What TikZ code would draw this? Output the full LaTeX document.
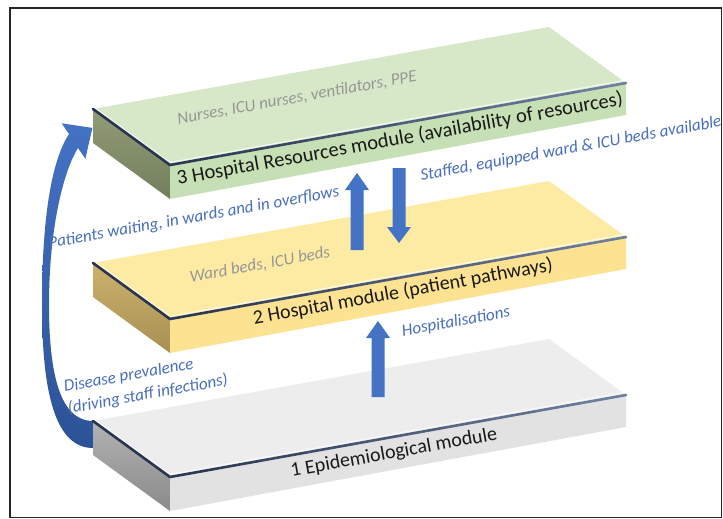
\documentclass[tikz,border=0pt]{standalone}
\usepackage{fontspec}
\setmainfont{Carlito}
\usetikzlibrary{calc}
\definecolor{arrowblue}{RGB}{68,114,196}
\definecolor{arrowdark}{RGB}{44,82,150}
\definecolor{labelblue}{RGB}{72,110,190}
\definecolor{greytext}{RGB}{150,150,150}
\definecolor{edgeA}{RGB}{40,52,80}
\definecolor{edgeB}{RGB}{112,130,162}
\definecolor{gTop}{RGB}{214,232,200}
\definecolor{gFront}{RGB}{199,223,180}
\definecolor{gLeftA}{RGB}{146,156,118}
\definecolor{gLeftB}{RGB}{114,126,92}
\definecolor{yTop}{RGB}{254,235,163}
\definecolor{yFront}{RGB}{252,226,145}
\definecolor{yLeftA}{RGB}{204,178,108}
\definecolor{yLeftB}{RGB}{168,143,84}
\definecolor{wTop}{RGB}{237,237,237}
\definecolor{wFront}{RGB}{226,226,226}
\definecolor{wLeftA}{RGB}{178,178,178}
\definecolor{wLeftB}{RGB}{138,138,138}
\newcommand\drawslab[5]{%
  \begin{scope}[shift={(0,#1)}]
    \fill[#2] (93,0) -- (549,-82) -- (626,-26) -- (170,56) -- cycle;
    \shade[top color=#4, bottom color=#5] (93,0) -- (170,56) -- (170,90) -- (93,34) -- cycle;
    \fill[#3] (170,56) -- (626,-26) -- (626,6) -- (170,90) -- cycle;
    \draw[white, line width=1.2, opacity=.7] (93,-2.5) -- (170,53.5) -- (624,-28.5);
    \draw[edgeA, line width=2.6, line cap=round, line join=round] (93,0) -- (170,56);
    \foreach \i in {0,...,9}{%
      \pgfmathtruncatemacro\p{\i*10+5}%
      \draw[edgeB!\p!edgeA, line width=2.6, line cap=round]
        ($(170,56)!\i/10!(626,-26)$) -- ($(170,56)!\i/10+0.1!(626,-26)$);}
  \end{scope}}
\tikzset{
  blockarrow/.style={fill=arrowblue, draw=none},
  title/.style={font=\fontsize{20}{23}\selectfont, text=black!90, rotate=10.2, inner sep=0},
  facelabel/.style={font=\itshape\fontsize{17}{20}\selectfont, text=greytext, rotate=10.2, inner sep=0},
  flowlabel/.style={font=\itshape\fontsize{17}{22}\selectfont, text=labelblue, rotate=10.2, inner sep=0},
}
\begin{document}
\begin{tikzpicture}[x=1pt,y=-1pt]
\useasboundingbox (0,0) rectangle (723,519);
\fill[white] (0,0) rectangle (723,519);
\draw[black!85, line width=1.2] (10,8) rectangle (721.5,517.5);

% curved arrow (disease prevalence)
\shade[top color=arrowblue, bottom color=arrowdark]
  (100,448) -- (93,448) .. controls (56,448) and (42,395) .. (42,305)
  .. controls (42,215) and (52,160) .. (69,134)
  -- (61.6,123.3) -- (92.4,127.9) -- (85.4,158.7) -- (78,148)
  .. controls (63,172) and (49,230) .. (49,305)
  .. controls (49,390) and (66,421) .. (93,421) -- (100,421) -- cycle;

% slabs
\drawslab{421}{wTop}{wFront}{wLeftA}{wLeftB}
\drawslab{263}{yTop}{yFront}{yLeftA}{yLeftB}
\drawslab{109}{gTop}{gFront}{gLeftA}{gLeftB}

% straight block arrows
\fill[blockarrow] (350.5,250) -- (350.5,190) -- (345,190) -- (357,173) -- (369,190) -- (363.5,190) -- (363.5,250) -- cycle;
\fill[blockarrow] (392.5,168) -- (392.5,227) -- (387,227) -- (399,243) -- (411,227) -- (405.5,227) -- (405.5,168) -- cycle;
\fill[blockarrow] (371.5,397) -- (371.5,338) -- (366,338) -- (378,321) -- (390,338) -- (384.5,338) -- (384.5,397) -- cycle;

% texts
\node[title, font=\fontsize{20.5}{23}\selectfont] (t3) at (400,139) {3 Hospital Resources module (availability of resources)};
\node[title] (t2) at (403,292) {2 Hospital module (patient pathways)};
\node[title] (t1) at (394,453) {1 Epidemiological module};
\node[facelabel] (f3) at (297,98) {Nurses, ICU nurses, ventilators, PPE};
\node[facelabel] (f2) at (260,265) {Ward beds, ICU beds};
\node[flowlabel] (l1) at (571,149) {Staffed, equipped ward \& ICU beds available};
\node[flowlabel] (l2) at (194,218) {Patients waiting, in wards and in overflows};
\node[flowlabel] (l3) at (456,322) {Hospitalisations};
\node[flowlabel, align=left] (l4) at (146,384) {Disease prevalence\\(driving staff infections)};
\end{tikzpicture}
\end{document}
